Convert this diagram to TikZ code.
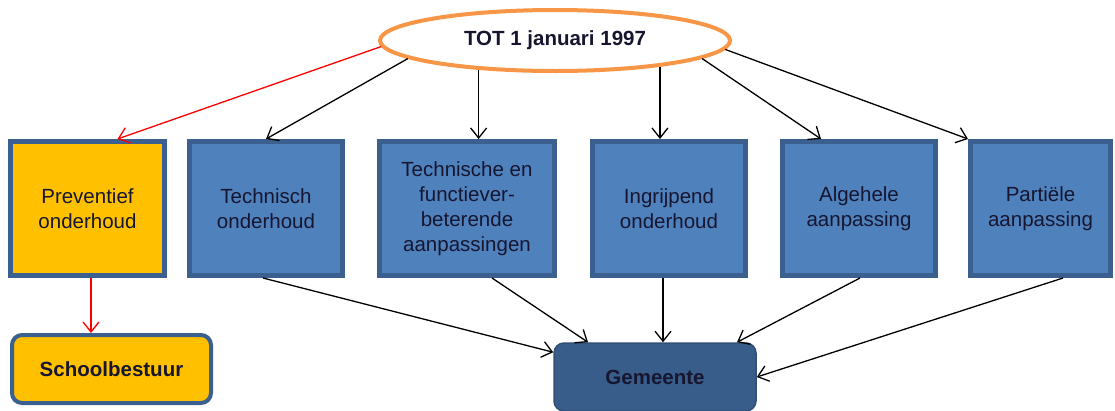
\documentclass[tikz,border=0pt]{standalone}
\usepackage{fontspec}
\setmainfont{Liberation Sans}
\usetikzlibrary{arrows.meta,shapes.geometric}
\definecolor{boxblue}{HTML}{4F81BD}
\definecolor{boxline}{HTML}{3B5F8E}
\definecolor{gemfill}{HTML}{385D8A}
\definecolor{gemline}{HTML}{2F5077}
\definecolor{boxorange}{HTML}{FFC000}
\definecolor{ellline}{HTML}{F79646}
\definecolor{txt}{HTML}{161630}
\begin{document}
\begin{tikzpicture}[x=1pt,y=-1pt,
  every node/.style={font=\fontsize{20.5}{25}\selectfont, text=txt, align=center, inner sep=0pt},
  topbox/.style={draw=boxline, line width=5pt, minimum height=134pt},
  bluebox/.style={topbox, fill=boxblue},
  orangebox/.style={topbox, fill=boxorange},
  conn/.style={line width=1.3pt, -{Straight Barb[length=10pt,width=16pt,line width=1.3pt]}},
  redconn/.style={conn, draw=red},
  blackconn/.style={conn, draw=black}
]
\useasboundingbox (0,0) rectangle (1115,410);

\node[ellipse, draw=ellline, line width=4pt, fill=white, minimum width=350pt, minimum height=61pt] (top) at (555,40.5) {\textbf{TOT 1 januari 1997}};

\node[orangebox, minimum width=154pt] (prev) at (87.5,208.5) {Preventief\\onderhoud};
\node[bluebox, minimum width=153pt] (tech) at (266,208.5) {Technisch\\onderhoud};
\node[bluebox, minimum width=175pt] (tfa) at (467,208.5) {Technische en\\functiever-\\beterende\\aanpassingen};
\node[bluebox, minimum width=153pt] (ingr) at (669,208.5) {Ingrijpend\\onderhoud};
\node[bluebox, minimum width=153pt] (alg) at (859,208.5) {Algehele\\aanpassing};
\node[bluebox, minimum width=140pt] (part) at (1040.5,208.5) {Partiële\\aanpassing};

\node[draw=boxline, line width=4pt, fill=boxorange, rounded corners=10pt, minimum width=199pt, minimum height=68pt] (sb) at (111.5,369) {\textbf{Schoolbestuur}};
\node[draw=gemline, line width=1.5pt, fill=gemfill, rounded corners=10pt, minimum width=202pt, minimum height=68pt] (gem) at (655,377) {\textbf{Gemeente}};

% top arrows
\draw[redconn] (top.182) -- ([xshift=30pt]prev.north);
\draw[blackconn] (top.187.2) -- (tech.north);
\draw[blackconn] (top.201.7) -- (top.201.7 |- tfa.north);
\draw[blackconn] (top.346.6) -- (top.346.6 |- ingr.north);
\draw[blackconn] (top.353.2) -- ([xshift=-38pt]alg.north);
\draw[blackconn] (top.357.6) -- (part.north west);

% bottom arrows
\draw[redconn] ([xshift=3.5pt]prev.south) -- ([xshift=3.5pt]prev.south |- sb.north);
\draw[blackconn] ([xshift=-3pt]tech.south) -- ([yshift=-10pt]gem.north west);
\draw[blackconn] ([xshift=25pt]tfa.south) -- ([xshift=-67pt]gem.north);
\draw[blackconn] ([xshift=-6pt]ingr.south) -- ([xshift=-6pt]ingr.south |- gem.north);
\draw[blackconn] ([xshift=1pt]alg.south) -- ([xshift=82pt]gem.north);
\draw[blackconn] ([xshift=22.5pt]part.south) -- (gem.east);
\end{tikzpicture}
\end{document}
